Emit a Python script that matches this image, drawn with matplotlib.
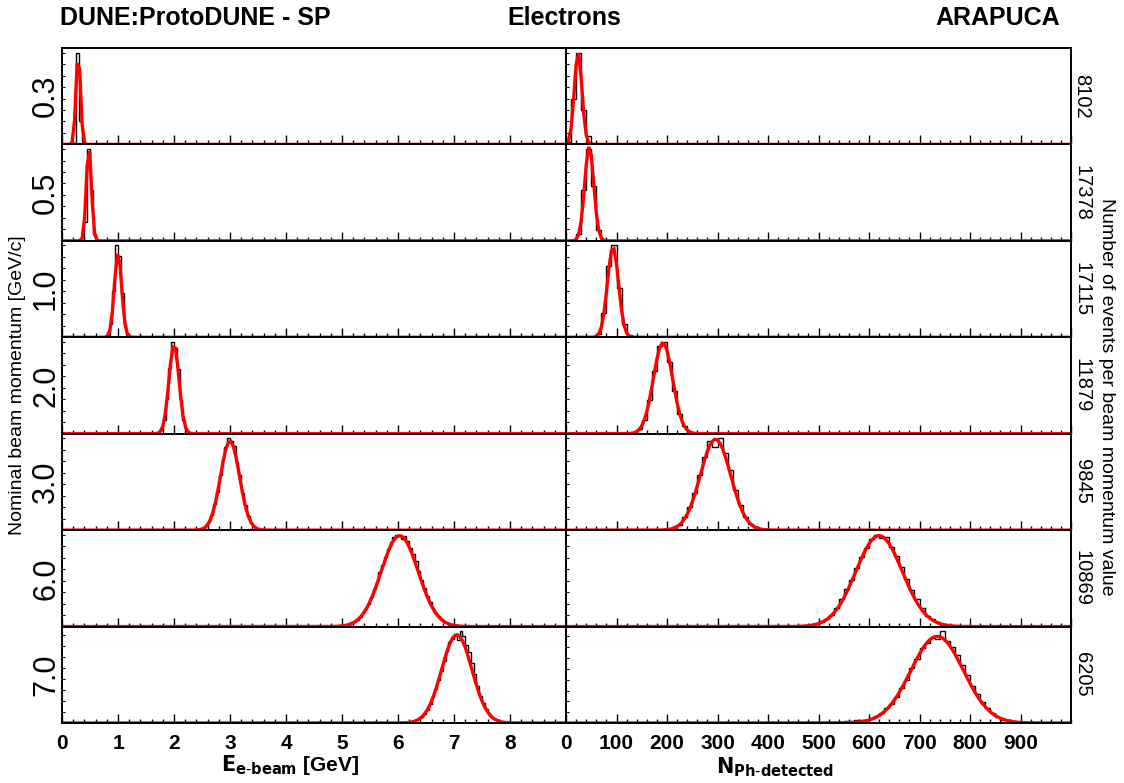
import numpy as np
import matplotlib
matplotlib.use("Agg")
import matplotlib.pyplot as plt
from matplotlib.ticker import MultipleLocator, NullFormatter

plt.rcParams['font.family'] = ['Liberation Sans', 'DejaVu Sans']

# ---------------- data ----------------
momenta = ["0.3", "0.5", "1.0", "2.0", "3.0", "6.0", "7.0"]
n_events = ["8102", "17378", "17115", "11879", "9845", "10869", "6205"]

# Left column: reconstructed beam energy, bin width 0.05 GeV
e_bin = 0.05
e_start = [0.20, 0.35, 0.80, 1.70, 2.50, 5.00, 6.20]
e_hist_03 = [2, 100, 25, 3]
e_hist_05 = [1, 20, 100, 55, 8, 2]
e_hist_10 = [3, 15, 50, 100, 88, 48, 14, 3, 1]
e_hist_20 = [1, 4, 15, 38, 72, 100, 93, 70, 37, 15, 4, 1]
e_hist_30 = [2, 4, 9, 16, 28, 41, 60, 77, 90, 100, 97, 92, 74, 60, 40, 27, 15, 8, 4, 2]
e_hist_60 = [1, 1, 2, 3, 5, 7, 10, 15, 19, 25, 32, 41, 49, 59, 67, 76, 84, 92, 97, 100,
             99, 95, 99, 93, 86, 79, 71, 61, 51, 42, 33, 27, 20, 15, 11, 8, 5, 4, 2, 2, 1]
e_hist_70 = [1, 2, 3, 4, 7, 10, 15, 21, 29, 38, 49, 59, 70, 82, 92, 95, 99, 94, 104, 98,
             88, 80, 68, 55, 42, 31, 23, 16, 11, 7, 5, 3, 2, 1, 1]
e_fit_amp = [100, 103, 92, 97, 97, 99, 100]
e_fit_mean = [0.29, 0.48, 1.00, 2.00, 3.00, 6.03, 7.05]
e_fit_sigma = [0.04, 0.045, 0.065, 0.09, 0.17, 0.33, 0.27]

# Right column: number of detected photons, bin width 10
n_bin = 10
n_start = [0, 10, 50, 120, 200, 460, 540]
n_hist_03 = [3, 50, 100, 38, 9, 2]
n_hist_05 = [1, 7, 55, 100, 60, 12, 1]
n_hist_10 = [0, 4, 26, 78, 100, 54, 14, 2]
n_hist_20 = [0, 1, 5, 15, 37, 68, 96, 100, 78, 47, 22, 8, 2, 0]
n_hist_30 = [1, 3, 6, 14, 25, 40, 60, 80, 97, 90, 100, 84, 65, 44, 27, 14, 7, 3, 1, 0]
n_hist_60 = [0, 1, 2, 3, 5, 8, 13, 20, 30, 41, 51, 64, 76, 86, 95, 100, 96, 97, 87, 77,
             65, 52, 40, 30, 20, 12, 8, 5, 3, 2, 1, 0, 0]
n_hist_70 = [1, 2, 2, 3, 4, 3, 6, 8, 12, 17, 22, 30, 40, 50, 64, 74, 86, 92, 98, 97,
             106, 95, 88, 78, 67, 55, 43, 33, 24, 17, 11, 7, 4, 3, 2, 1]
n_fit_amp = [100, 103, 98, 99, 99, 99, 100]
n_fit_mean = [24, 46, 93, 192, 296, 620, 735]
n_fit_sigma = [7.5, 9, 11, 19, 30, 46, 52]

e_hists = [e_hist_03, e_hist_05, e_hist_10, e_hist_20, e_hist_30, e_hist_60, e_hist_70]
n_hists = [n_hist_03, n_hist_05, n_hist_10, n_hist_20, n_hist_30, n_hist_60, n_hist_70]

# ---------------- figure ----------------
W, H = 1124, 783
fig = plt.figure(figsize=(W / 100, H / 100), dpi=100)

x0_l, x1_l, x1_r = 62, 566, 1071
y_top, y_bot = 48, 723
row_h = (y_bot - y_top) / 7


def gauss(x, a, m, s):
    return a * np.exp(-0.5 * ((x - m) / s) ** 2)


def style_axis(ax, xmax, major, minor, bottom):
    ax.set_xlim(0, xmax)
    ax.xaxis.set_major_locator(MultipleLocator(major))
    ax.xaxis.set_minor_locator(MultipleLocator(minor))
    ax.yaxis.set_major_locator(MultipleLocator(12.5))
    ax.yaxis.set_major_formatter(NullFormatter())
    ax.tick_params(axis='x', which='major', direction='in', length=6.5, width=1.0,
                   top=False, bottom=True, labelbottom=bottom, labelsize=15, pad=8)
    ax.tick_params(axis='x', which='minor', direction='in', length=3.2, width=1.0,
                   top=False, bottom=True)
    ax.tick_params(axis='y', which='major', direction='in', length=2.5, width=0.8,
                   left=True, right=False)
    for sp in ax.spines.values():
        sp.set_linewidth(1.4)
        sp.set_color('black')


columns = [
    (x0_l, x1_l, 9.0, 1.0, 0.2, e_bin, e_start, e_hists, e_fit_amp, e_fit_mean, e_fit_sigma),
    (x1_l, x1_r, 1000.0, 100, 20, n_bin, n_start, n_hists, n_fit_amp, n_fit_mean, n_fit_sigma),
]

for ci, (xa, xb, xmax, major, minor, bw, starts, hists, amps, means, sigs) in enumerate(columns):
    for r in range(7):
        top = y_top + r * row_h
        ax = fig.add_axes([xa / W, 1 - (top + row_h) / H, (xb - xa) / W, row_h / H])
        vals = np.array(hists[r], dtype=float)
        edges = starts[r] + bw * np.arange(len(vals) + 1)
        ax.stairs(vals, edges, color='black', linewidth=1.0, baseline=0)
        xf = np.linspace(0, xmax, 201)
        ax.plot(xf, gauss(xf, amps[r], means[r], sigs[r]), color='#ff0000', linewidth=2.4,
                solid_joinstyle='miter')
        ax.set_ylim(0, 1.05 * vals.max())
        style_axis(ax, xmax, major, minor, bottom=(r == 6))
        if r == 6:
            if ci == 0:
                ax.set_xticks(np.arange(0, 9, 1))
                ax.set_xticklabels([str(i) for i in range(9)], fontweight='bold')
            else:
                ax.set_xticks(np.arange(0, 1000, 100))
                ax.set_xticklabels([str(i) for i in range(0, 1000, 100)], fontweight='bold')
            ax.set_xlim(0, xmax)

# row labels
for r in range(7):
    yc = 1 - (y_top + (r + 0.5) * row_h) / H
    fig.text(46 / W, yc, momenta[r], rotation=90, ha='center', va='center', fontsize=22)
    fig.text(1082 / W, yc, n_events[r], rotation=270, ha='center', va='center', fontsize=14.5)

# titles
fig.text(60 / W, 1 - 18 / H, "DUNE:ProtoDUNE - SP", ha='left', va='center',
         fontsize=18, fontweight='bold')
fig.text(564 / W, 1 - 18 / H, "Electrons", ha='center', va='center',
         fontsize=18, fontweight='bold')
fig.text(1060 / W, 1 - 18 / H, "ARAPUCA", ha='right', va='center',
         fontsize=18, fontweight='bold')

# axis labels
fig.text(18 / W, 1 - 385 / H, "Nominal beam momentum [GeV/c]", rotation=90,
         ha='center', va='center', fontsize=14)
fig.text(1106 / W, 1 - 397 / H, "Number of events per beam momentum value", rotation=270,
         ha='center', va='center', fontsize=14)
fig.text(290 / W, 1 - 765 / H, r"$\mathbf{E_{e\text{-}beam}}$ [GeV]", ha='center', va='center',
         fontsize=15, fontweight='bold')
fig.text(775 / W, 1 - 767 / H, r"$\mathbf{N_{Ph\text{-}detected}}$", ha='center', va='center',
         fontsize=15, fontweight='bold')

fig.savefig("out.png", dpi=100)
